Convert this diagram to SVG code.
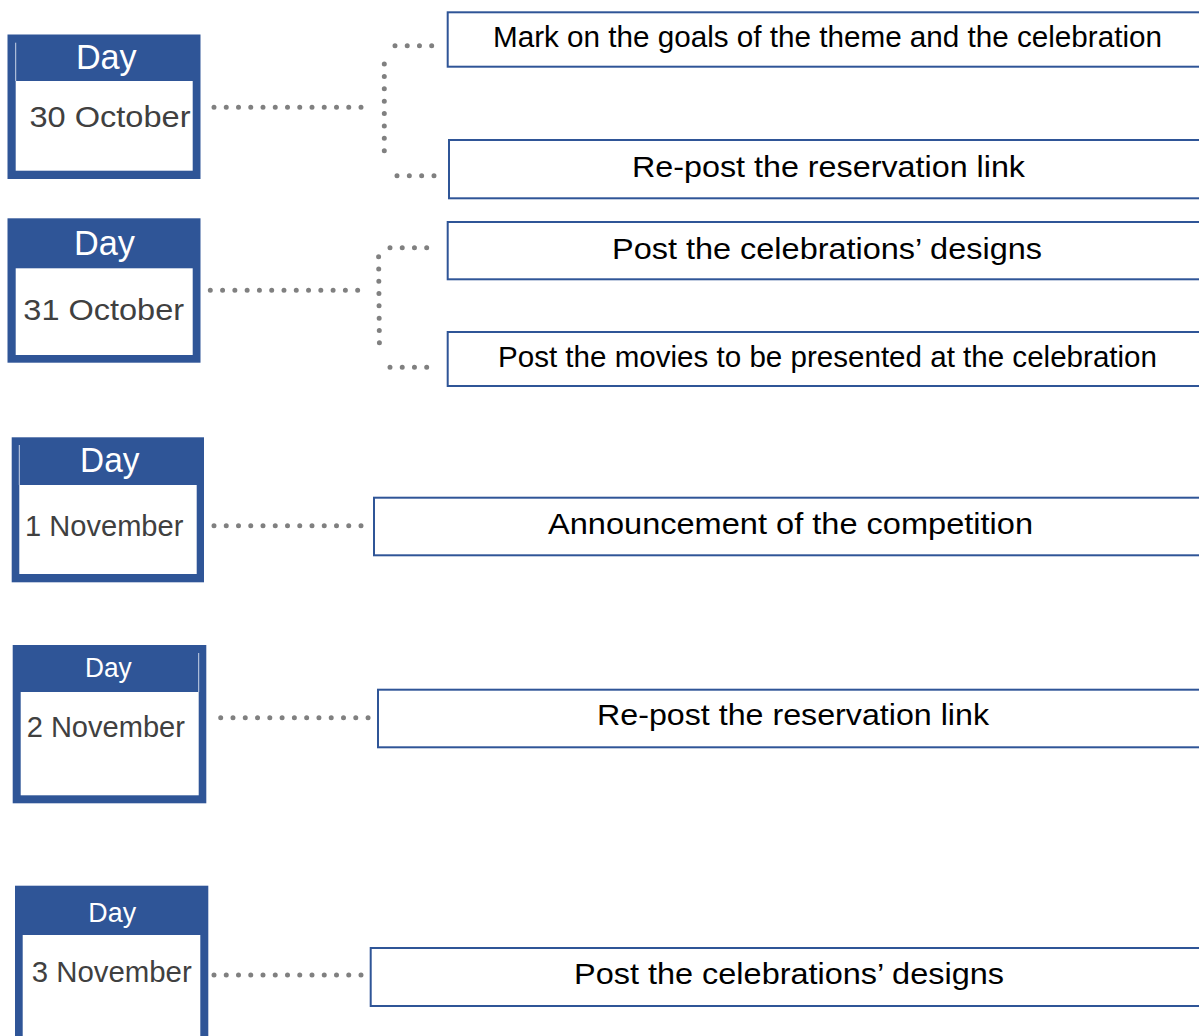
<svg xmlns="http://www.w3.org/2000/svg" width="1199" height="1036" viewBox="0 0 1199 1036">
<style>
.outer{fill:#2f5597}
.inner{fill:#ffffff}
.hl{stroke:#c9d3e8;stroke-width:1}
.day{font-family:"Liberation Sans",Arial,sans-serif;fill:#ffffff;text-anchor:middle}
.date{font-family:"Liberation Sans",Arial,sans-serif;fill:#404040;font-size:30px;text-anchor:middle}
.task rect{fill:#ffffff;stroke:#2f5597;stroke-width:2}
.task text{font-family:"Liberation Sans",Arial,sans-serif;fill:#000000;font-size:30px;text-anchor:middle}
.dot{stroke:#808080;stroke-width:5;stroke-linecap:round;fill:none}
</style>
<rect width="1199" height="1036" fill="#ffffff"/>

<g id="day-30oct">
<rect class="outer" x="7.5" y="34.5" width="193" height="144.5"/>
<rect class="inner" x="15.7" y="81" width="177" height="89.7"/>
<line class="hl" x1="15.7" y1="42.7" x2="15.7" y2="81"/>
<text class="day" x="106.3" y="69.3" font-size="35" textLength="60.7" lengthAdjust="spacingAndGlyphs">Day</text>
<text class="date" x="110" y="127.3" textLength="161" lengthAdjust="spacingAndGlyphs">30 October</text>
</g>

<g id="day-31oct">
<rect class="outer" x="7.5" y="218.3" width="193" height="144.4"/>
<rect class="inner" x="15.7" y="268.3" width="177" height="86.7"/>
<text class="day" x="104.5" y="255" font-size="35" textLength="61" lengthAdjust="spacingAndGlyphs">Day</text>
<text class="date" x="103.7" y="320" textLength="160.7" lengthAdjust="spacingAndGlyphs">31 October</text>
</g>

<g id="day-1nov">
<rect class="outer" x="11.7" y="437.3" width="192.3" height="145"/>
<rect class="inner" x="19.3" y="485" width="177.4" height="89"/>
<line class="hl" x1="19.3" y1="445" x2="19.3" y2="485"/>
<text class="day" x="109.7" y="471.7" font-size="35" textLength="59.3" lengthAdjust="spacingAndGlyphs">Day</text>
<text class="date" x="104.2" y="536" textLength="158.3" lengthAdjust="spacingAndGlyphs">1 November</text>
</g>

<g id="day-2nov">
<rect class="outer" x="12.7" y="645" width="193.6" height="158.3"/>
<rect class="inner" x="20.7" y="692" width="178" height="103.3"/>
<line class="hl" x1="198.7" y1="653" x2="198.7" y2="692"/>
<text class="day" x="108.3" y="677.3" font-size="27" textLength="46.7" lengthAdjust="spacingAndGlyphs">Day</text>
<text class="date" x="105.8" y="736.7" textLength="158.3" lengthAdjust="spacingAndGlyphs">2 November</text>
</g>

<g id="day-3nov">
<rect class="outer" x="15" y="885.7" width="193.3" height="160"/>
<rect class="inner" x="22.7" y="935" width="177.6" height="110"/>
<text class="day" x="112.2" y="921.7" font-size="27" textLength="47.7" lengthAdjust="spacingAndGlyphs">Day</text>
<text class="date" x="111.7" y="981.7" textLength="160" lengthAdjust="spacingAndGlyphs">3 November</text>
</g>

<g id="task-1" class="task">
<rect x="447.7" y="12.3" width="770" height="54.4"/>
<text x="827.5" y="46.7" textLength="669" lengthAdjust="spacingAndGlyphs">Mark on the goals of the theme and the celebration</text>
</g>
<g id="task-2" class="task">
<rect x="449" y="140" width="770" height="58.3"/>
<text x="828.5" y="176.7" textLength="393" lengthAdjust="spacingAndGlyphs">Re-post the reservation link</text>
</g>
<g id="task-3" class="task">
<rect x="447.7" y="222" width="770" height="57.3"/>
<text x="827" y="259.3" textLength="430" lengthAdjust="spacingAndGlyphs">Post the celebrations’ designs</text>
</g>
<g id="task-4" class="task">
<rect x="447.7" y="332" width="770" height="54"/>
<text x="827.5" y="366.7" textLength="659" lengthAdjust="spacingAndGlyphs">Post the movies to be presented at the celebration</text>
</g>
<g id="task-5" class="task">
<rect x="374" y="497.7" width="840" height="57.6"/>
<text x="790.5" y="534.3" textLength="485" lengthAdjust="spacingAndGlyphs">Announcement of the competition</text>
</g>
<g id="task-6" class="task">
<rect x="378" y="689.7" width="840" height="57.6"/>
<text x="793" y="725" textLength="392" lengthAdjust="spacingAndGlyphs">Re-post the reservation link</text>
</g>
<g id="task-7" class="task">
<rect x="370.7" y="948" width="840" height="58"/>
<text x="789" y="984" textLength="430" lengthAdjust="spacingAndGlyphs">Post the celebrations’ designs</text>
</g>

<g id="connectors">
<line class="dot" x1="214" y1="107.3" x2="361.1" y2="107.3" stroke-dasharray="0 12.25"/>
<line class="dot" x1="384.3" y1="64" x2="384.3" y2="150.8" stroke-dasharray="0 12.39"/>
<line class="dot" x1="395" y1="45.7" x2="431.8" y2="45.7" stroke-dasharray="0 12.23"/>
<line class="dot" x1="397" y1="175.7" x2="434.1" y2="175.7" stroke-dasharray="0 12.33"/>

<line class="dot" x1="210.3" y1="290.3" x2="357.8" y2="290.3" stroke-dasharray="0 12.28"/>
<line class="dot" x1="378.6" y1="256.7" x2="379.4" y2="342.8" stroke-dasharray="0 12.29"/>
<line class="dot" x1="390" y1="247.7" x2="426.8" y2="247.7" stroke-dasharray="0 12.23"/>
<line class="dot" x1="390" y1="367.3" x2="426.8" y2="367.3" stroke-dasharray="0 12.23"/>

<line class="dot" x1="214" y1="525.7" x2="361.1" y2="525.7" stroke-dasharray="0 12.25"/>
<line class="dot" x1="220.7" y1="717.7" x2="368.2" y2="717.7" stroke-dasharray="0 12.28"/>
<line class="dot" x1="214" y1="975" x2="361.1" y2="975" stroke-dasharray="0 12.25"/>
</g>
</svg>
